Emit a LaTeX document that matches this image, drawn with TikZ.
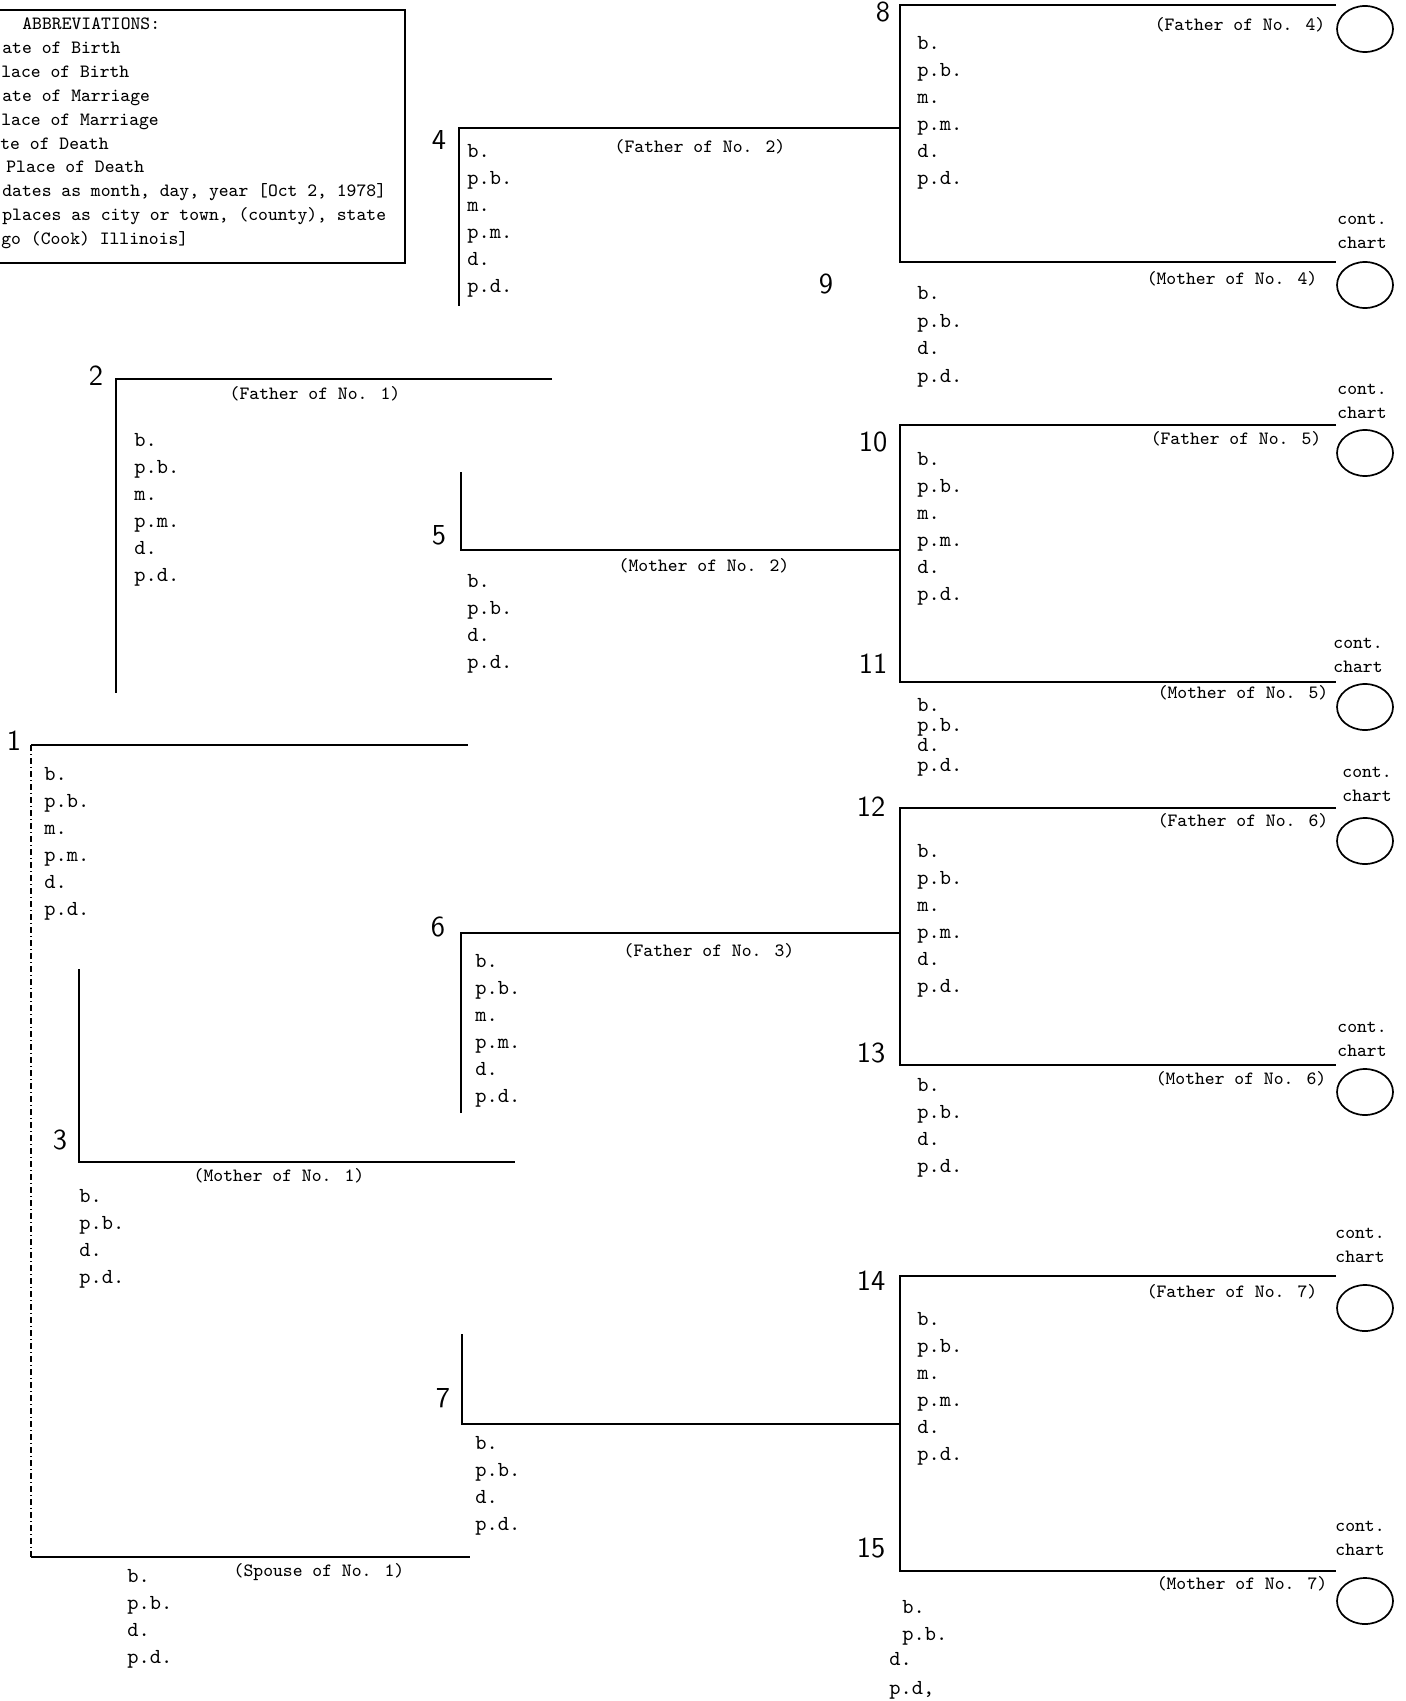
\documentclass[tikz,border=0pt]{standalone}
\usepackage{fontspec}
\usepackage{tikz}
\usetikzlibrary{calc, shapes.geometric}

\tikzset{
    chartline/.style={line width=0.9pt},
    spouseline/.style={line width=0.7pt, dash pattern=on 3pt off 1.5pt on 0.5pt off 1.5pt},
    numlabel/.style={font=\sffamily\fontsize{14.5}{14.5}\selectfont, inner sep=0pt},
    rolelabel/.style={font=\ttfamily\fontsize{9.37}{9.37}\selectfont, inner sep=0pt},
    recfield/.style={font=\ttfamily\fontsize{10.7}{10.7}\selectfont, inner sep=0pt, anchor=base west},
    keytext/.style={font=\ttfamily\fontsize{9.37}{9.37}\selectfont, inner sep=0pt, anchor=base west},
    contmark/.style={draw, ellipse, line width=0.85pt, minimum width=28pt, minimum height=23pt, inner sep=0pt},
}

% #1 line spacing, #2 name, #3 x, #4 first baseline, #5 fields
\newcommand{\recblock}[5][27]{%
    \foreach \fld [count=\k from 0] in {#5}
        \node[recfield] (#2-\k) at (#3, #4+#1*\k) {\fld};
}

\begin{document}
\begin{tikzpicture}[x=0.5pt, y=-0.5pt]
    \useasboundingbox (0,0) rectangle (1405,1701);

    % key box
    \draw[line width=0.9pt] (-10,10) rectangle (405,263);
    \node[keytext] (key1) at (22,30) {ABBREVIATIONS:};
    \node[keytext] (key2) at (2,54) {ate of Birth};
    \node[keytext] (key3) at (1,78) {lace of Birth};
    \node[keytext] (key4) at (2,102) {ate of Marriage};
    \node[keytext] (key5) at (1,126) {lace of Marriage};
    \node[keytext] (key6) at (0,150) {te of Death};
    \node[keytext] (key7) at (6,173) {Place of Death};
    \node[keytext] (key8) at (2,197) {dates as month, day, year [Oct 2, 1978]};
    \node[keytext] (key9) at (2,221) {places as city or town, (county), state};
    \node[keytext] (key10) at (1,245) {go (Cook) Illinois]};

    % line positions
    \coordinate (p1) at (31,745);    \coordinate (p1e) at (468,745);
    \coordinate (s1) at (31,1557);   \coordinate (s1e) at (470,1557);
    \coordinate (p2) at (116,379);   \coordinate (p2e) at (552,379);  \coordinate (p2b) at (116,693);
    \coordinate (p3t) at (79,969);   \coordinate (p3) at (79,1162);   \coordinate (p3e) at (515,1162);
    \coordinate (p4) at (459,128);   \coordinate (p4b) at (459,306);
    \coordinate (p5t) at (461,472);  \coordinate (p5) at (461,550);
    \coordinate (p6) at (461,933);   \coordinate (p6b) at (461,1113);
    \coordinate (p7t) at (462,1334); \coordinate (p7) at (462,1424);
    \coordinate (p8) at (900,5);     \coordinate (p8e) at (1336,5);
    \coordinate (p9) at (900,262);   \coordinate (p9e) at (1336,262);
    \coordinate (p10) at (900,425);  \coordinate (p10e) at (1336,425);
    \coordinate (p11) at (900,682);  \coordinate (p11e) at (1336,682);
    \coordinate (p12) at (900,808);  \coordinate (p12e) at (1336,808);
    \coordinate (p13) at (900,1065); \coordinate (p13e) at (1336,1065);
    \coordinate (p14) at (900,1276); \coordinate (p14e) at (1336,1276);
    \coordinate (p15) at (900,1571); \coordinate (p15e) at (1336,1571);

    \draw[chartline] (p1) -- (p1e);
    \draw[chartline] (s1) -- (s1e);
    \draw[spouseline] (p1) -- (s1);
    \draw[chartline] (p2e) -- (p2) -- (p2b);
    \draw[chartline] (p3t) -- (p3) -- (p3e);
    \draw[chartline] (p4b) -- (p4) -- (p4 -| p8);
    \draw[chartline] (p5t) -- (p5) -- (p5 -| p10);
    \draw[chartline] (p6b) -- (p6) -- (p6 -| p12);
    \draw[chartline] (p7t) -- (p7) -- (p7 -| p14);
    \draw[chartline] (p8e) -- (p8) -- (p9) -- (p9e);
    \draw[chartline] (p10e) -- (p10) -- (p11) -- (p11e);
    \draw[chartline] (p12e) -- (p12) -- (p13) -- (p13e);
    \draw[chartline] (p14e) -- (p14) -- (p15) -- (p15e);

    % numbers
    \node[numlabel] (n1) at (14,741) {1};
    \node[numlabel] (n2) at (96,376) {2};
    \node[numlabel] (n3) at (60,1140) {3};
    \node[numlabel] (n4) at (439,140) {4};
    \node[numlabel] (n5) at (439,535) {5};
    \node[numlabel] (n6) at (438,927) {6};
    \node[numlabel] (n7) at (443,1398) {7};
    \node[numlabel] (n8) at (883,12) {8};
    \node[numlabel] (n9) at (826,284) {9};
    \node[numlabel] (n10) at (873,442) {10};
    \node[numlabel] (n11) at (873,664) {11};
    \node[numlabel] (n12) at (871,807) {12};
    \node[numlabel] (n13) at (871,1053) {13};
    \node[numlabel] (n14) at (871,1281) {14};
    \node[numlabel] (n15) at (871,1548) {15};

    % relations
    \node[rolelabel] (lab1) at (319,1572) {(Spouse of No. 1)};
    \node[rolelabel] (lab2) at (315,394) {(Father of No. 1)};
    \node[rolelabel] (lab3) at (279,1176) {(Mother of No. 1)};
    \node[rolelabel] (lab4) at (700,147) {(Father of No. 2)};
    \node[rolelabel] (lab5) at (704,566) {(Mother of No. 2)};
    \node[rolelabel] (lab6) at (709,951) {(Father of No. 3)};
    \node[rolelabel] (lab8) at (1240,25) {(Father of No. 4)};
    \node[rolelabel] (lab9) at (1232,279) {(Mother of No. 4)};
    \node[rolelabel] (lab10) at (1236,439) {(Father of No. 5)};
    \node[rolelabel] (lab11) at (1243,693) {(Mother of No. 5)};
    \node[rolelabel] (lab12) at (1243,821) {(Father of No. 6)};
    \node[rolelabel] (lab13) at (1241,1079) {(Mother of No. 6)};
    \node[rolelabel] (lab14) at (1232,1292) {(Father of No. 7)};
    \node[rolelabel] (lab15) at (1242,1584) {(Mother of No. 7)};

    % continuation marks
    \foreach \cy [count=\i] in {29,285,453,707,841,1092,1308,1601}
        \node[contmark] (cm\i) at (1365,\cy) {};
    \foreach \cx/\cy [count=\i] in {1337/225,1337/394,1333/648,1342/777,1337/1032,1335/1238,1335/1531} {
        \node[keytext] (cont\i) at (\cx,\cy) {cont.};
        \node[keytext] (chart\i) at (\cx,\cy+24) {chart};
    }

    % records
    \recblock{r1}{44}{780}{b.,p.b.,m.,p.m.,d.,p.d.}
    \recblock{r2}{134}{446}{b.,p.b.,m.,p.m.,d.,p.d.}
    \recblock{r3}{79}{1202}{b.,p.b.,d.,p.d.}
    \recblock{r4}{467}{158}{b.,p.b.,m.,p.m.,d.,p.d.}
    \recblock{r5}{467}{587}{b.,p.b.,d.,p.d.}
    \recblock{r6}{475}{967}{b.,p.b.,m.,p.m.,d.,p.d.}
    \recblock{r7}{475}{1449}{b.,p.b.,d.,p.d.}
    \recblock{r8}{917}{50}{b.,p.b.,m.,p.m.,d.,p.d.}
    \recblock[27.5]{r9}{917}{300}{b.,p.b.,d.,p.d.}
    \recblock{r10}{917}{465}{b.,p.b.,m.,p.m.,d.,p.d.}
    \recblock[20]{r11}{917}{711}{b.,p.b.,d.,p.d.}
    \recblock{r12}{917}{857}{b.,p.b.,m.,p.m.,d.,p.d.}
    \recblock{r13}{917}{1091}{b.,p.b.,d.,p.d.}
    \recblock{r14}{917}{1325}{b.,p.b.,m.,p.m.,d.,p.d.}
    \recblock{rs}{127}{1582}{b.,p.b.,d.,p.d.}
    \node[recfield] (r15-0) at (902,1613) {b.};
    \node[recfield] (r15-1) at (902,1640) {p.b.};
    \node[recfield] (r15-2) at (889,1665) {d.};
    \node[recfield] (r15-3) at (889,1694) {p.d,};
\end{tikzpicture}
\end{document}
